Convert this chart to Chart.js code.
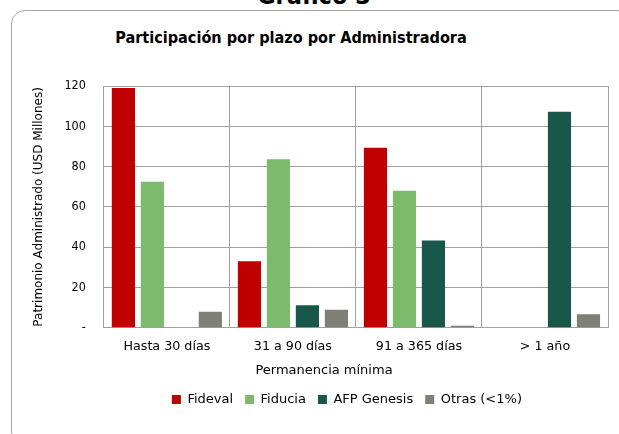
<!DOCTYPE html>
<html><head><meta charset="utf-8">
<script src="https://cdn.jsdelivr.net/npm/chart.js@4"></script>
<style>
html,body{margin:0;padding:0;background:#fff;width:619px;height:434px;overflow:hidden;position:relative;font-family:"DejaVu Sans",sans-serif;}
#frame{position:absolute;left:11px;top:10px;width:620px;height:436px;border:1.5px solid #a6a6a6;border-radius:14px;box-sizing:border-box;}
#sup{position:absolute;left:0;width:628px;top:-19px;text-align:center;font-weight:bold;font-size:25px;color:#000;font-family:"DejaVu Sans Condensed","DejaVu Sans",sans-serif;}
#ttl{position:absolute;left:0;width:582px;top:28px;text-align:center;font-weight:bold;font-size:16.1px;color:#000;font-family:"DejaVu Sans Condensed","DejaVu Sans",sans-serif;}
#xt{position:absolute;left:0;width:648px;top:362px;text-align:center;font-size:13px;color:#000;}
#wrap{position:absolute;left:0;top:0;width:619px;height:434px;}
</style></head>
<body>
<div id="frame"></div>
<div id="sup">Gráfico 3</div>
<div id="ttl">Participación por plazo por Administradora</div>
<div id="wrap"><canvas id="c" width="619" height="434"></canvas></div>
<div id="xt">Permanencia mínima</div>
<script>
const categories = ["Hasta 30 días", "31 a 90 días", "91 a 365 días", "> 1 año"];
const fideval = [119, 33, 89.3, null];
const fiducia = [72.5, 83.7, 68, null];
const afpGenesis = [null, 11.2, 43.3, 107.2];
const otras = [8, 9, 1, 6.7];
const yTicks = [0, 20, 40, 60, 80, 100, 120];
const seriesNames = ["Fideval", "Fiducia", "AFP Genesis", "Otras (<1%)"];
const colors = ["#C00000", "#7CBB6C", "#18584A", "#7F7F76"];

const FONT = '"DejaVu Sans",sans-serif';
const FONTC = '"DejaVu Sans Condensed","DejaVu Sans",sans-serif';
const data = [fideval, fiducia, afpGenesis, otras];

const legendShift = {
  id: 'legendShift',
  afterLayout(chart) {
    const l = chart.legend;
    if (l) { l.left -= 9; l.right -= 9; }
  }
};

new Chart(document.getElementById('c'), {
  type: 'bar',
  data: {
    labels: categories,
    datasets: seriesNames.map((n, i) => ({
      label: n, data: data[i], backgroundColor: colors[i],
      borderWidth: 0, categoryPercentage: 0.92, barPercentage: 0.8
    }))
  },
  options: {
    responsive: false, animation: false,
    layout: { padding: { left: 32, right: 11, top: 86, bottom: 18 } },
    plugins: {
      title: { display: false },
      tooltip: { enabled: false },
      legend: {
        position: 'bottom', fullSize: false,
        labels: { boxWidth: 9, boxHeight: 9, padding: 12, color: '#000', font: { family: FONT, size: 13 } }
      }
    },
    scales: {
      x: {
        grid: { color: '#a0a0a0', lineWidth: 1, offset: true, drawTicks: false },
        border: { color: '#a0a0a0' },
        ticks: { color: '#000', padding: 11, font: { family: FONT, size: 12.7 } },
        afterFit: s => { s.height += 16; }
      },
      y: {
        min: 0, max: 120,
        afterBuildTicks: s => { s.ticks = yTicks.map(v => ({ value: v })); },
        grid: { color: '#a0a0a0', lineWidth: 1, drawTicks: false },
        border: { color: '#a0a0a0' },
        ticks: { color: '#000', padding: 18, font: { family: FONTC, size: 12.5 },
          callback: v => v === 0 ? '-' : v },
        title: { display: true, text: 'Patrimonio Administrado (USD Millones)', color: '#000',
          font: { family: FONT, size: 12 }, padding: { top: 0, bottom: 0 } }
      }
    }
  },
  plugins: [legendShift]
});
</script>
</body></html>
